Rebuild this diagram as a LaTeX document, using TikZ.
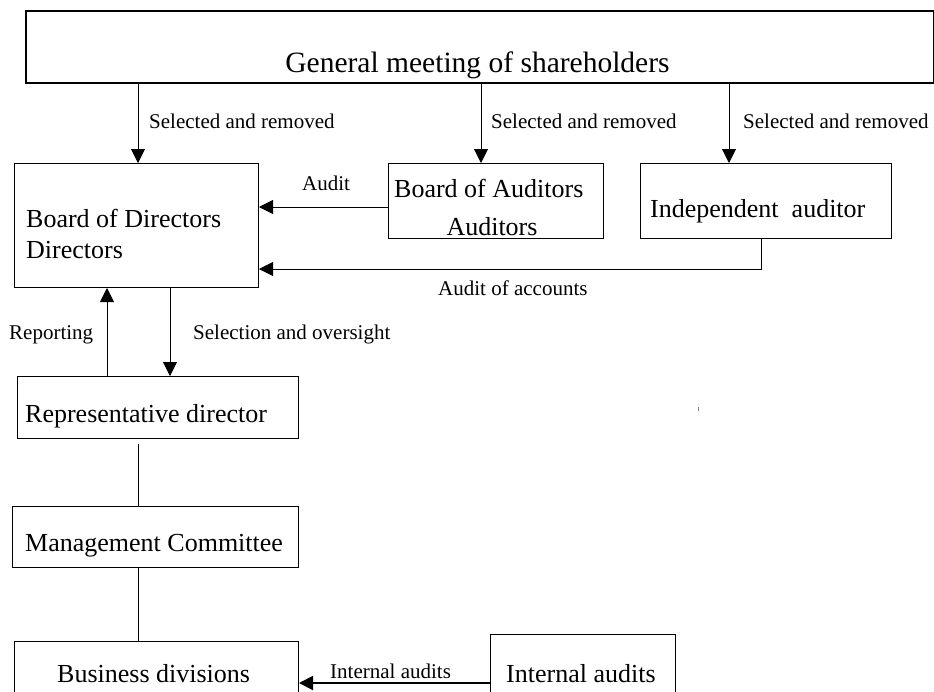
\documentclass[tikz,border=0pt]{standalone}
\usepackage{fontspec}
\setmainfont{Liberation Serif}
\usetikzlibrary{arrows.meta,calc}
\tikzset{
  box/.style={draw, line width=1pt, inner sep=0pt, anchor=north west},
  conn/.style={line width=0.9pt},
  arr/.style={line width=0.9pt, -{Triangle[length=14pt,width=14pt]}},
  boxtxt/.style={inner sep=0pt, font=\fontsize{26}{31}\selectfont},
  toptxt/.style={inner sep=0pt, font=\fontsize{29.5}{35}\selectfont},
  lbl/.style={inner sep=0pt, anchor=base west, font=\fontsize{21}{25}\selectfont},
}
\begin{document}
\begin{tikzpicture}[x=1pt,y=-1pt]
\useasboundingbox (0,0) rectangle (934,691);
\clip (0,0) rectangle (934,691);
% boxes
\node[box, line width=1.6pt, minimum width=908pt, minimum height=72pt] (gm) at (25,10) {};
\node[box, minimum width=244pt, minimum height=124pt] (bod) at (14,163) {};
\node[box, minimum width=215pt, minimum height=75pt] (boa) at (388,163) {};
\node[box, minimum width=251pt, minimum height=75pt] (ind) at (640,163) {};
\node[box, minimum width=281pt, minimum height=62pt] (rep) at (17,376) {};
\node[box, minimum width=286pt, minimum height=61pt] (mc) at (12,506) {};
\node[box, minimum width=284pt, minimum height=70pt] (bus) at (14,641) {};
\node[box, minimum width=185pt, minimum height=77pt] (ia) at (490,634) {};
% box texts
\node[toptxt, anchor=base] (gmt) at (477.5,72) {General meeting of shareholders};
\node[boxtxt, anchor=base west] (bodt1) at (26,227) {Board of Directors};
\node[boxtxt, anchor=base west] (bodt2) at (26,258) {Directors};
\node[boxtxt, anchor=base west] (boat1) at (394,197) {Board of Auditors};
\node[boxtxt, anchor=base] (boat2) at (492,235) {Auditors};
\node[boxtxt, anchor=base west] (indt) at (650,217) {Independent\ \ auditor};
\node[boxtxt, anchor=base west] (rept) at (25,422) {Representative director};
\node[boxtxt, anchor=base west] (mct) at (25,551) {Management Committee};
\node[boxtxt, anchor=base west] (bust) at (57,682) {Business divisions};
\node[boxtxt, anchor=base west] (iat) at (506,682) {Internal audits};
% connectors
\draw[arr] (gm.south -| 138,0) -- (bod.north -| 138,0);
\draw[arr] (gm.south -| 481,0) -- (boa.north -| 481,0);
\draw[arr] (gm.south -| 729,0) -- (ind.north -| 729,0);
\draw[arr] (boa.west |- 0,207) -- (bod.east |- 0,207);
\coordinate (acc) at (761,269);
\draw[arr] (ind.south -| acc) -- (acc) -- (bod.east |- acc);
\draw[arr] (rep.north -| 107,0) -- (bod.south -| 107,0);
\draw[arr] (bod.south -| 170,0) -- (rep.north -| 170,0);
\draw[conn] ($(rep.south -| 138,0)+(0,5)$) -- (mc.north -| 138,0);
\draw[conn] (mc.south -| 138,0) -- (bus.north -| 138,0);
\draw[arr, line width=2pt] (ia.west |- 0,683) -- (bus.east |- 0,683);
% labels
\node[lbl] (l1) at (149,128) {Selected and removed};
\node[lbl] (l2) at (491,128) {Selected and removed};
\node[lbl] (l3) at (743,128) {Selected and removed};
\node[lbl] (l4) at (302,190) {Audit};
\node[lbl] (l5) at (438,295) {Audit of accounts};
\node[lbl] (l6) at (9,339) {Reporting};
\node[lbl] (l7) at (193,339) {Selection and oversight};
\node[lbl] (l8) at (330,678) {Internal audits};
% stray mark
\draw[line width=0.8pt, gray] (698,407) -- (698,411);
\end{tikzpicture}
\end{document}
